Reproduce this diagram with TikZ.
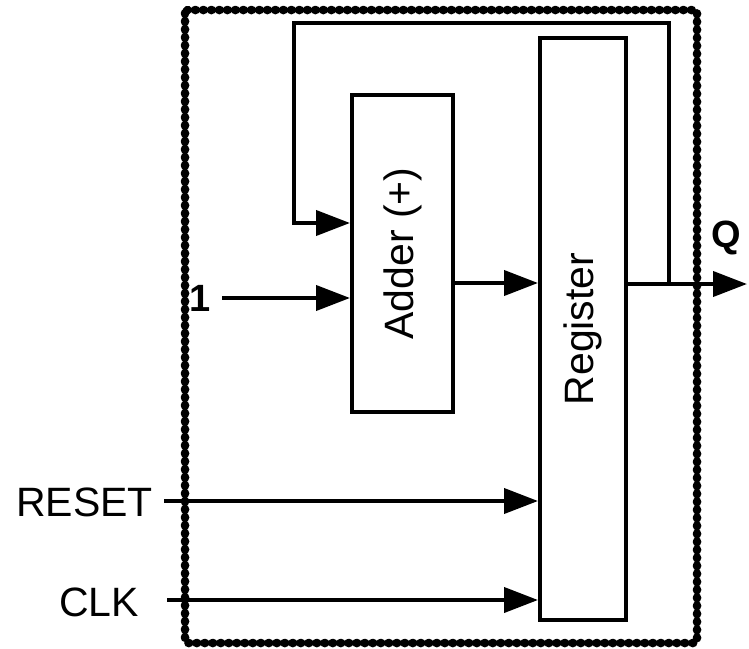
\documentclass[tikz,border=0pt]{standalone}
\usepackage{fontspec}
\setmainfont{Liberation Sans}
\usetikzlibrary{arrows.meta}
\begin{document}
\begin{tikzpicture}[x=1pt,y=-1pt,
  box/.style={draw, line width=4pt, inner sep=0pt},
  conn/.style={line width=4pt, line join=miter},
  arr/.style={conn, -{Triangle[length=34pt,width=25pt]}},
  lbl/.style={font=\fontsize{41}{48}\selectfont, inner sep=0pt},
  blbl/.style={font=\fontsize{38}{44}\selectfont\bfseries, inner sep=0pt},
  frame/.style={line width=8.5pt, dash pattern=on 0.8pt off 7.2pt, line cap=round, rounded corners=3pt}]
\useasboundingbox (0,0) rectangle (749,648);
% blocks
\node[box, minimum width=101pt, minimum height=317pt] (adder) at (402.5,253.5) {};
\node[lbl, rotate=90] (addertxt) at (adder.center) {Adder (+)};
\node[box, minimum width=86pt, minimum height=582pt] (reg) at (583,329) {};
\node[lbl, rotate=90] (regtxt) at (reg.center) {Register};
% labels
\node[blbl] (one) at (200,298) {1};
\node[lbl, anchor=east] (reset) at (153,502) {RESET};
\node[lbl, anchor=east] (clk) at (139,602) {CLK};
\node[blbl] (q) at (726,238) {Q};
% coordinates
\coordinate (in1) at (222,298);
\coordinate (rin) at (164,501);
\coordinate (cin) at (167,600);
\coordinate (ya) at (0,283);
\coordinate (qend) at (747,284);
\coordinate (fb) at (669,284);
\coordinate (fbtop) at (294,23);
\coordinate (fbin) at (0,223);
% connectors
\draw[arr] (in1) -- (adder.west |- in1);
\draw[arr] (adder.east |- ya) -- (reg.west |- ya);
\draw[arr] (reg.east |- qend) -- (qend);
\draw[arr] (fb) -- (fb |- fbtop) -- (fbtop) -- (fbtop |- fbin) -- (adder.west |- fbin);
\draw[arr] (rin) -- (reg.west |- rin);
\draw[arr] (cin) -- (reg.west |- cin);
% frame
\draw[frame] (185,10) rectangle (697,643);
\end{tikzpicture}
\end{document}
